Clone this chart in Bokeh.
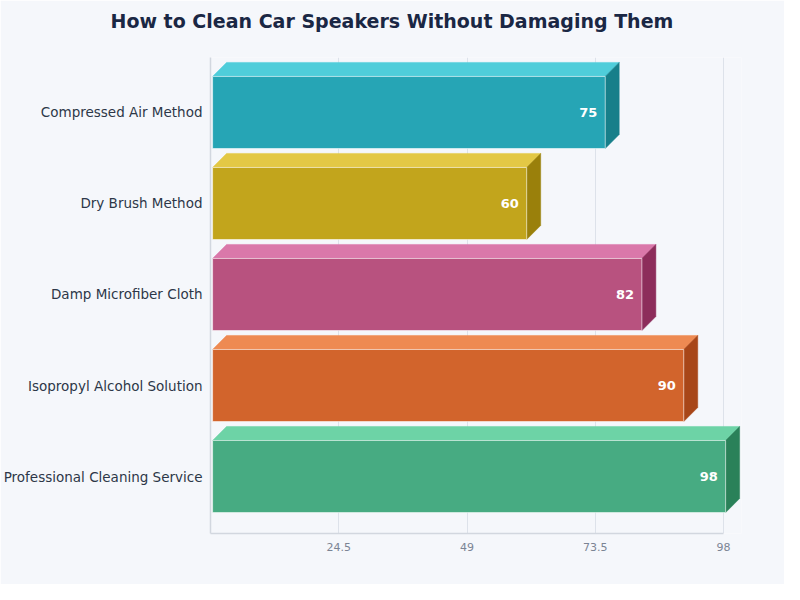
from bokeh.plotting import figure
from bokeh.models import Range1d, FixedTicker, Title
from bokeh.core.properties import value
from bokeh.embed import file_html
from bokeh.resources import INLINE

# data (top to bottom as in the picture)
methods = ["Compressed Air Method", "Dry Brush Method", "Damp Microfiber Cloth",
           "Isopropyl Alcohol Solution", "Professional Cleaning Service"]
scores = [75, 60, 82, 90, 98]
front_colors = ["#26a5b5", "#c2a51c", "#b8527f", "#d2642c", "#47ab82"]
top_colors = ["#4fcdda", "#e3c845", "#da78aa", "#ee8a52", "#6dd3a6"]
side_colors = ["#177f8a", "#9a800b", "#8d2d5b", "#a84618", "#2a8159"]
x_ticks = [24.5, 49, 73.5, 98]

BG = "#f5f7fb"
FONT = "DejaVu Sans"
n = len(methods)
ys = [n - 1 - i for i in range(n)]  # first method at the top

p = figure(width=784, height=584, output_backend="svg", toolbar_location=None,
           title=None,
           x_range=Range1d(0, 101.43), y_range=Range1d(-0.626, 4.604),
           min_border_left=209, min_border_right=43, min_border_top=57,
           min_border_bottom=51, background_fill_color=BG, border_fill_color=BG,
           outline_line_color=None)

# blank spacer next to the frame, then the real title above it
p.add_layout(Title(text=" ", text_font_size="10px", standoff=5), "above")
p.add_layout(Title(text="How to Clean Car Speakers Without Damaging Them",
                   text_font=FONT, text_font_size="19px", text_font_style="bold",
                   text_color="#1a2744", align="left", offset=-100, standoff=15),
             "above")

# 3d depth in data units
dx = 2.67
dy = 0.154
h = 0.396
x0 = 0.4

for y, v, cf, ct, cs in zip(ys, scores, front_colors, top_colors, side_colors):
    x1 = v + x0
    # top face
    p.patch([x0, x0 + dx, x1 + dx, x1], [y + h, y + h + dy, y + h + dy, y + h],
            fill_color=ct, line_color=ct, line_width=0.5)
    # side face
    p.patch([x1, x1 + dx, x1 + dx, x1], [y + h, y + h + dy, y - h + dy, y - h],
            fill_color=cs, line_color=cs, line_width=0.5)
    # front face
    p.quad(left=x0, right=x1, bottom=y - h, top=y + h, fill_color=cf,
           line_color="white", line_alpha=0.55, line_width=1)

p.text(x=[v + x0 - 1.5 for v in scores], y=ys, text=[str(v) for v in scores],
       text_align="right", text_baseline="middle", text_color="white",
       text_font=value(FONT), text_font_style="bold", text_font_size="13px")

# axes
p.xaxis.ticker = FixedTicker(ticks=x_ticks)
p.xaxis.bounds = (0, 98)
p.xaxis.major_tick_line_color = None
p.xaxis.major_tick_out = 0
p.xaxis.minor_tick_line_color = None
p.xaxis.axis_line_color = "#d2d7df"
p.xaxis.axis_line_width = 1.5
p.xaxis.major_label_text_color = "#7b8494"
p.xaxis.major_label_text_font = FONT
p.xaxis.major_label_text_font_size = "11px"
p.xaxis.major_label_standoff = 9

p.yaxis.ticker = FixedTicker(ticks=ys)
p.yaxis.major_label_overrides = {y: m for y, m in zip(ys, methods)}
p.yaxis.major_tick_line_color = None
p.yaxis.major_tick_out = 0
p.yaxis.minor_tick_line_color = None
p.yaxis.axis_line_color = "#d2d7df"
p.yaxis.axis_line_width = 1.5
p.yaxis.major_label_text_color = "#2d3748"
p.yaxis.major_label_text_font = FONT
p.yaxis.major_label_text_font_size = "13.5px"
p.yaxis.major_label_standoff = 8

p.xgrid.ticker = FixedTicker(ticks=x_ticks)
p.xgrid.bounds = (0, 98)
p.xgrid.grid_line_color = "#dde2ea"
p.ygrid.grid_line_color = None

open("out.html", "w").write(file_html(p, INLINE))
